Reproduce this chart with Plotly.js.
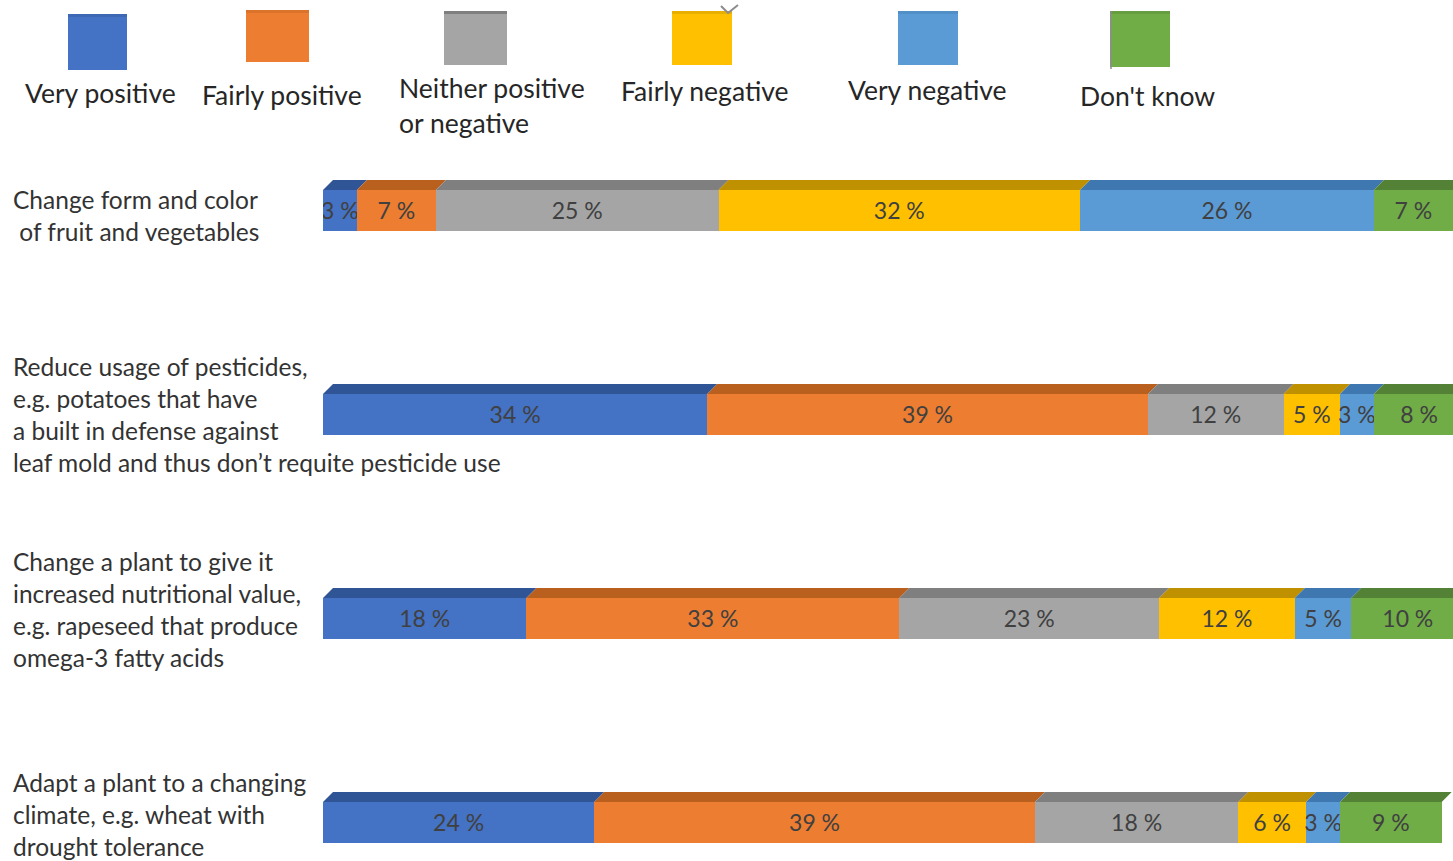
<!DOCTYPE html>
<html>
<head>
<meta charset="utf-8">
<script src="https://cdn.plot.ly/plotly-3.0.1.min.js"></script>
<style>
  html, body { margin: 0; padding: 0; background: #ffffff; }
  #chart { width: 1453px; height: 861px; }
</style>
</head>
<body>
<div id="chart"></div>
<script>
// Statements (one per bar), lines separated by "\n"
const categories = [
  "Change form and color\n\u00a0of fruit and vegetables",
  "Reduce usage of pesticides,\ne.g. potatoes that have\na built in defense against\nleaf mold and thus don\u2019t requite pesticide use",
  "Change a plant to give it\nincreased nutritional value,\ne.g. rapeseed that produce\nomega-3 fatty acids",
  "Adapt a plant to a changing\nclimate, e.g. wheat with\ndrought tolerance"
];

// Response shares in percent, one value per statement
const seriesNames = ["Very positive", "Fairly positive", "Neither positive or negative",
                     "Fairly negative", "Very negative", "Don't know"];
const veryPositive   = [3, 34, 18, 24];
const fairlyPositive = [7, 39, 33, 39];
const neither        = [25, 12, 23, 18];
const fairlyNegative = [32, 5, 12, 6];
const veryNegative   = [26, 3, 5, 3];
const dontKnow       = [7, 8, 10, 9];
const seriesValues = [veryPositive, fairlyPositive, neither, fairlyNegative, veryNegative, dontKnow];

// Styling
const frontColors = ["#4472C4", "#ED7D31", "#A5A5A5", "#FFC000", "#5B9BD5", "#70AD47"];
const topColors   = ["#2F5597", "#B9601F", "#7F7F7F", "#BF9000", "#3F78B0", "#538135"];
const FONT = "Lato, 'Open Sans', sans-serif";

// Plot area in pixels
const L = 323, T = 88, W = 1130, H = 773;
const pxX = x => (x - L) / W;
const pxY = y => (T + H - y) / H;

const BAR_W = 0.201;            // bar thickness in y units
const DEPTH_X = 10 / (W / 100); // top-face slant in x units (~10px)
const DEPTH_Y = 10 / 204;       // top-face height in y units (~10px)

const yIdx = categories.map((_, i) => i);

const traces = seriesValues.map((vals, k) => ({
  type: "bar",
  orientation: "h",
  name: seriesNames[k],
  x: vals,
  y: yIdx,
  width: BAR_W,
  marker: { color: frontColors[k], line: { width: 0 } },
  text: vals.map(v => v + " %"),
  textposition: "inside",
  insidetextanchor: "middle",
  textangle: 0,
  constraintext: "none",
  textfont: { family: FONT, size: 23, color: "#404040" },
  hoverinfo: "skip",
  showlegend: false
}));

// Slanted top faces of each stacked segment, built from the cumulative values
const shapes = [];
yIdx.forEach(i => {
  let start = 0;
  seriesValues.forEach((vals, k) => {
    const end = start + vals[i];
    const yb = i - BAR_W / 2;
    const yt = yb - DEPTH_Y;
    shapes.push({
      type: "path", xref: "x", yref: "y", layer: "below",
      path: `M ${start} ${yb} L ${end} ${yb} L ${end + DEPTH_X} ${yt} L ${start + DEPTH_X} ${yt} Z`,
      fillcolor: topColors[k], line: { width: 0 }
    });
    start = end;
  });
});

// Legend: large swatches with captions underneath
const legendSwatches = [
  [68, 14, 127, 70],
  [246, 10, 309, 62],
  [444, 11, 507, 65],
  [672, 11, 732, 65],
  [898, 11, 958, 65],
  [1110, 11, 1170, 67]
];
const legendCaptions = [
  { lines: ["Very positive"], x: 100, y: 93, anchor: "center" },
  { lines: ["Fairly positive"], x: 282, y: 95, anchor: "center" },
  { lines: ["Neither positive", "or negative"], x: 397, y: 88, anchor: "left" },
  { lines: ["Fairly negative"], x: 705, y: 91, anchor: "center" },
  { lines: ["Very negative"], x: 927, y: 90, anchor: "center" },
  { lines: ["Don't know"], x: 1147, y: 96, anchor: "center" }
];

legendSwatches.forEach((r, k) => {
  shapes.push({
    type: "rect", xref: "paper", yref: "paper",
    x0: pxX(r[0]), x1: pxX(r[2]), y0: pxY(r[3]), y1: pxY(r[1]),
    fillcolor: frontColors[k], line: { width: 0 }
  });
  // thin darker rim along the top of each swatch
  shapes.push({
    type: "rect", xref: "paper", yref: "paper",
    x0: pxX(r[0]), x1: pxX(r[2]), y0: pxY(r[1] + 3), y1: pxY(r[1]),
    fillcolor: topColors[k], line: { width: 0 }, opacity: k === 2 ? 1 : 0.35
  });
});
// small tick mark on the yellow swatch and grey edge on the green swatch
shapes.push({
  type: "path", xref: "paper", yref: "paper",
  path: `M ${pxX(721)} ${pxY(6)} L ${pxX(728)} ${pxY(13)} L ${pxX(738)} ${pxY(5)}`,
  line: { color: "#8c8c8c", width: 2 }
});
shapes.push({
  type: "line", xref: "paper", yref: "paper",
  x0: pxX(1111), x1: pxX(1111), y0: pxY(11), y1: pxY(69),
  line: { color: "#8c8c8c", width: 1.5 }
});

const annotations = [];
const LEGEND_LINE = 35;
legendCaptions.forEach(c => {
  c.lines.forEach((line, j) => {
    annotations.push({
      xref: "paper", yref: "paper",
      x: pxX(c.x), y: pxY(c.y + j * LEGEND_LINE),
      xanchor: c.anchor, yanchor: "middle",
      text: line, showarrow: false,
      font: { family: FONT, size: 26.5, color: "#262626" }
    });
  });
});

// Statement labels on the left, one annotation per line
const LABEL_LINE = 32;
const labelDown = [5, 0, -9, -8];   // vertical offset of each label block, px downward
categories.forEach((cat, i) => {
  const lines = cat.split("\n");
  lines.forEach((line, j) => {
    annotations.push({
      xref: "paper", yref: "y",
      x: pxX(11), y: i,
      xanchor: "left", yanchor: "middle",
      yshift: -labelDown[i] - (j - (lines.length - 1) / 2) * LABEL_LINE,
      text: line, showarrow: false,
      font: { family: FONT, size: 24.5, color: "#333333" }
    });
  });
});

const layout = {
  width: 1453, height: 861,
  margin: { l: L, r: 1453 - L - W, t: T, b: 861 - T - H, pad: 0 },
  paper_bgcolor: "#ffffff", plot_bgcolor: "#ffffff",
  barmode: "stack",
  showlegend: false,
  xaxis: { range: [0, 100], showgrid: false, zeroline: false, showline: false,
           showticklabels: false, ticks: "", fixedrange: true },
  yaxis: { range: [3.189, -0.6005], showgrid: false, zeroline: false, showline: false,
           showticklabels: false, ticks: "", fixedrange: true },
  shapes: shapes,
  annotations: annotations,
  font: { family: FONT }
};

Plotly.newPlot("chart", traces, layout, { displayModeBar: false, staticPlot: true });
</script>
</body>
</html>
